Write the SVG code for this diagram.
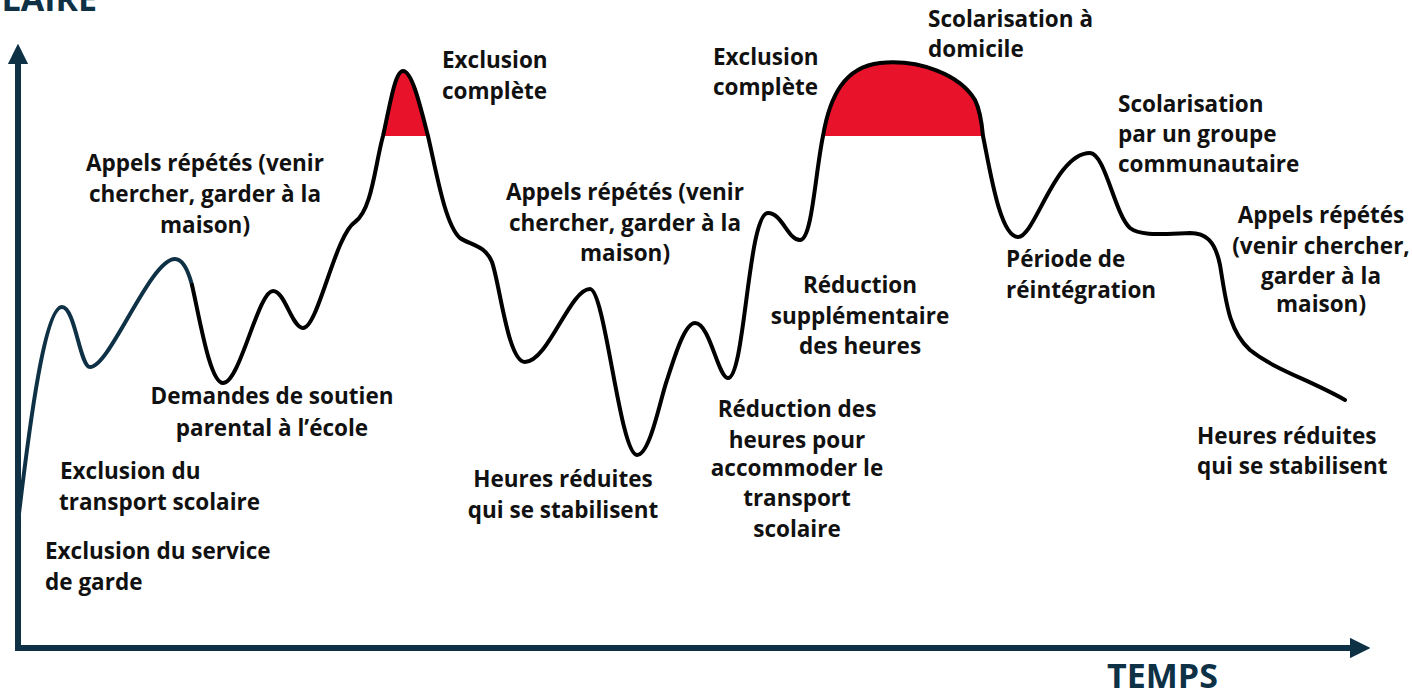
<svg xmlns="http://www.w3.org/2000/svg" width="1412" height="691" viewBox="0 0 1412 691">
<defs>
<style>
.lbl{font-family:"Open Sans","Liberation Sans",sans-serif;font-weight:700;font-size:22.5px;fill:#111}
.c{text-anchor:middle}
.ax{font-family:"Open Sans","Liberation Sans",sans-serif;font-weight:700;font-size:34px;fill:#0e3146}
.axis{stroke:#0e3146;stroke-width:6;fill:none}
.curve{fill:none;stroke:#000;stroke-width:4;stroke-linecap:round;stroke-linejoin:round}
.red{fill:#e8132a;stroke:none}
</style>
<marker id="arr" viewBox="0 0 10 10" refX="1" refY="5" markerWidth="3.4" markerHeight="3.4" markerUnits="strokeWidth" orient="auto">
<path d="M0,0 L10,5 L0,10 Z" fill="#0e3146"/>
</marker>
</defs>
<rect width="1412" height="691" fill="#fff"/>
<g id="axes">
<line class="axis" x1="18" y1="648" x2="18" y2="62" marker-end="url(#arr)"/>
<line class="axis" x1="15" y1="648" x2="1352" y2="648" marker-end="url(#arr)"/>
<text class="ax" x="97" y="11" text-anchor="end">SCOLAIRE</text>
<text class="ax" x="1107" y="688">TEMPS</text>
</g>
<g id="connectors">
<path class="red" d="M383,136 C390,105 395,71 403,71 C412,71 420,105 428,136 Z"/>
<path class="red" d="M823,136 C830,95 845,67 880,63 C920,59 960,75 975,100 C980,110 982,125 983,136 Z"/>
<path class="curve" style="stroke:#0e3146" d="M18,522 C30,420 45,307 62,307 C75,307 80,367 90,367 C110,367 150,259 175,259 C183,259 188,270 192,285"/>
<path class="curve" d="M192,285 C200,320 210,383 223,383 C240,383 258,291 273,291 C285,291 292,328 303,328 C318,328 335,235 355,222 C372,210 375,165 383,136 C390,105 395,71 403,71 C412,71 420,105 428,136 C436,170 445,225 460,238 C470,245 485,245 492,262 C500,285 508,362 525,362 C548,362 570,289 590,289 C605,289 620,455 637,455 C650,455 660,400 667,380 C675,355 685,323 695,323 C710,323 718,378 728,378 C745,378 748,213 768,213 C782,213 788,240 800,240 C812,240 815,175 823,136 C830,95 845,67 880,63 C920,59 960,75 975,100 C980,110 982,125 983,136 C990,170 1000,237 1018,237 C1035,237 1055,153 1090,153 C1105,153 1115,215 1130,228 C1140,236 1160,234 1190,233 C1205,233 1215,240 1220,265 C1226,300 1228,330 1250,350 C1275,370 1310,380 1345,400"/>
</g>
<g id="n-appels1"><text class="lbl c" x="205" y="171">Appels répétés (venir</text><text class="lbl c" x="205" y="202">chercher, garder à la</text><text class="lbl c" x="205" y="233">maison)</text></g>
<g id="n-excl1"><text class="lbl" x="442" y="68">Exclusion</text><text class="lbl" x="442" y="99">complète</text></g>
<g id="n-appels2"><text class="lbl c" x="625" y="200">Appels répétés (venir</text><text class="lbl c" x="625" y="231">chercher, garder à la</text><text class="lbl c" x="625" y="261">maison)</text></g>
<g id="n-excl2"><text class="lbl" x="713" y="65">Exclusion</text><text class="lbl" x="713" y="95">complète</text></g>
<g id="n-domicile"><text class="lbl" x="928" y="27">Scolarisation à</text><text class="lbl" x="928" y="57">domicile</text></g>
<g id="n-groupe"><text class="lbl" x="1118" y="112">Scolarisation</text><text class="lbl" x="1118" y="142">par un groupe</text><text class="lbl" x="1118" y="172">communautaire</text></g>
<g id="n-appels3"><text class="lbl c" x="1321" y="223">Appels répétés</text><text class="lbl c" x="1321" y="254">(venir chercher,</text><text class="lbl c" x="1321" y="284">garder à la</text><text class="lbl c" x="1321" y="312">maison)</text></g>
<g id="n-reduction-supp"><text class="lbl c" x="860" y="293">Réduction</text><text class="lbl c" x="860" y="324">supplémentaire</text><text class="lbl c" x="860" y="354">des heures</text></g>
<g id="n-reintegration"><text class="lbl" x="1006" y="267">Période de</text><text class="lbl" x="1006" y="298">réintégration</text></g>
<g id="n-soutien"><text class="lbl c" x="272" y="404">Demandes de soutien</text><text class="lbl c" x="272" y="436">parental à l’école</text></g>
<g id="n-transport"><text class="lbl" x="60" y="479">Exclusion du</text><text class="lbl" x="59" y="510">transport scolaire</text></g>
<g id="n-garde"><text class="lbl" x="45" y="559">Exclusion du service</text><text class="lbl" x="45" y="590">de garde</text></g>
<g id="n-heures1"><text class="lbl c" x="563" y="487">Heures réduites</text><text class="lbl c" x="563" y="518">qui se stabilisent</text></g>
<g id="n-reduction-transport"><text class="lbl c" x="797" y="417">Réduction des</text><text class="lbl c" x="797" y="448">heures pour</text><text class="lbl c" x="797" y="476">accommoder le</text><text class="lbl c" x="797" y="506">transport</text><text class="lbl c" x="797" y="537">scolaire</text></g>
<g id="n-heures2"><text class="lbl" x="1197" y="444">Heures réduites</text><text class="lbl" x="1197" y="474">qui se stabilisent</text></g>
</svg>
